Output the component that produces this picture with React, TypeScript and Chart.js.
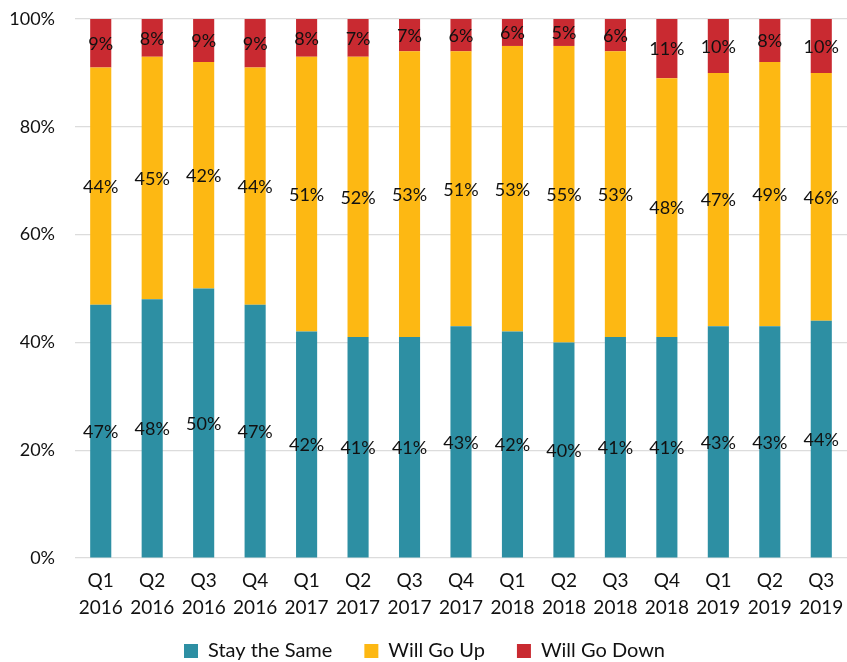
import React, { useEffect, useRef } from "react";
import { Chart, registerables } from "chart.js";

Chart.register(...registerables);

const categories: string[][] = [
  ["Q1", "2016"], ["Q2", "2016"], ["Q3", "2016"], ["Q4", "2016"],
  ["Q1", "2017"], ["Q2", "2017"], ["Q3", "2017"], ["Q4", "2017"],
  ["Q1", "2018"], ["Q2", "2018"], ["Q3", "2018"], ["Q4", "2018"],
  ["Q1", "2019"], ["Q2", "2019"], ["Q3", "2019"],
];
const staySame = [47, 48, 50, 47, 42, 41, 41, 43, 42, 40, 41, 41, 43, 43, 44];
const willGoUp = [44, 45, 42, 44, 51, 52, 53, 51, 53, 55, 53, 48, 47, 49, 46];
const willGoDown = [9, 8, 9, 9, 8, 7, 7, 6, 6, 5, 6, 11, 10, 8, 10];
const yTicks = [0, 20, 40, 60, 80, 100];

const FONT = "Lato, 'DejaVu Sans', sans-serif";

const labelPlugin = {
  id: "segLabels",
  afterLayout(chart: any) {
    // let the two-line x labels extend below the axis box without being clipped
    if (chart.scales.x) chart.scales.x.bottom = chart.height;
  },
  afterDatasetsDraw(chart: any) {
    const ctx = chart.ctx;
    const area = chart.chartArea;
    ctx.save();
    ctx.font = `18px ${FONT}`;
    ctx.fillStyle = "#111111";
    ctx.textAlign = "center";
    ctx.textBaseline = "middle";
    chart.data.datasets.forEach((ds: any, di: number) => {
      const meta = chart.getDatasetMeta(di);
      meta.data.forEach((el: any, i: number) => {
        const top = Math.max(el.y, area.top);
        const bottom = Math.min(el.base, area.bottom);
        const y = (top + bottom) / 2 + 1;
        ctx.fillText(ds.data[i] + "%", el.x, y);
      });
    });
    ctx.restore();
  },
};

export default function App() {
  const ref = useRef<HTMLCanvasElement>(null);
  useEffect(() => {
    document.body.style.margin = "0";
    const chart = new Chart(ref.current!, {
      type: "bar",
      data: {
        labels: categories,
        datasets: [
          { label: "Stay the Same", data: staySame, backgroundColor: "#2D8FA3", barPercentage: 0.41, categoryPercentage: 1 },
          { label: "Will Go Up", data: willGoUp, backgroundColor: "#FDB813", barPercentage: 0.41, categoryPercentage: 1 },
          { label: "Will Go Down", data: willGoDown, backgroundColor: "#C92A31", barPercentage: 0.41, categoryPercentage: 1 },
        ],
      },
      options: {
        animation: false,
        responsive: false,
        maintainAspectRatio: false,
        layout: { padding: { top: 19, right: -2, left: 0, bottom: -9 } },
        plugins: {
          tooltip: { enabled: false },
          legend: {
            position: "bottom",
            labels: {
              boxWidth: 14,
              boxHeight: 14,
              padding: 32,
              color: "#111111",
              font: { size: 20, family: FONT },
            },
          },
        },
        scales: {
          x: {
            stacked: true,
            grid: { display: false },
            border: { display: false },
            afterFit: (scale: any) => {
              scale.height = 51;
              scale.paddingLeft = 0;
              scale.paddingRight = 0;
            },
            ticks: {
              color: "#111111",
              font: { size: 19, family: FONT, lineHeight: 1.42 },
              padding: 1,
              maxRotation: 0,
            },
          },
          y: {
            stacked: true,
            min: 0,
            max: 100,
            afterBuildTicks: (scale: any) => {
              scale.ticks = yTicks.map((v) => ({ value: v }));
            },
            afterFit: (scale: any) => {
              scale.width = 75;
              scale.paddingTop = 0;
              scale.paddingBottom = 0;
            },
            grid: { color: "#dcdcdc", lineWidth: 1.2, drawTicks: false },
            border: { display: false },
            ticks: {
              color: "#111111",
              font: { size: 18, family: FONT },
              padding: 20,
              callback: (v: any) => v + "%",
            },
          },
        },
      },
      plugins: [labelPlugin],
    });
    return () => chart.destroy();
  }, []);
  return <canvas ref={ref} width={847} height={662} style={{ display: "block" }} />;
}
